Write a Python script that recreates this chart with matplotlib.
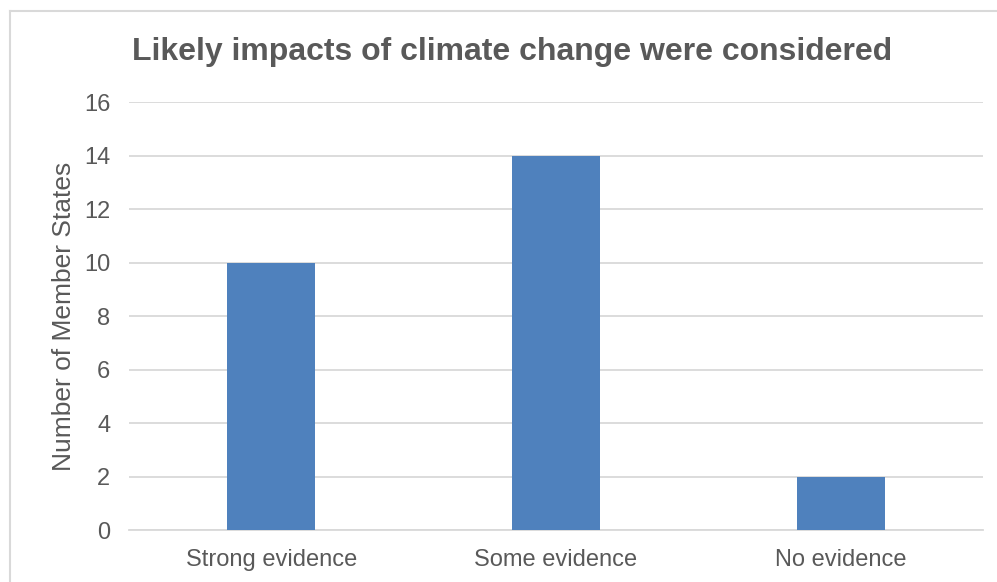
import matplotlib.pyplot as plt
from matplotlib.lines import Line2D

# evidence categories and member state counts
categories = ["Strong evidence", "Some evidence", "No evidence"]
counts = [10, 14, 2]
y_ticks = [0, 2, 4, 6, 8, 10, 12, 14, 16]

plt.rcParams['font.family'] = ['Liberation Sans', 'DejaVu Sans']
text_gray = "#595959"

fig = plt.figure(figsize=(9.97, 5.82), dpi=100)
ax = fig.add_axes([0.1294, 0.0893, 0.8566, 0.7354])

ax.bar(range(len(categories)), counts, width=0.31, color="#4F81BD", zorder=3)
ax.set_xlim(-0.5, len(categories) - 0.5)
ax.set_ylim(0, 16)
ax.set_yticks(y_ticks)
ax.set_xticks(range(len(categories)))
ax.set_xticklabels(categories)
ax.tick_params(axis="both", length=0, labelsize=17, colors=text_gray)
ax.tick_params(axis="y", pad=13.5)
ax.tick_params(axis="x", pad=14)
ax.grid(axis="y", color="#D9D9D9", linewidth=1.3, zorder=0)
for side in ["top", "right", "left"]:
    ax.spines[side].set_visible(False)
ax.spines["bottom"].set_color("#D9D9D9")
ax.spines["bottom"].set_linewidth(1.3)

ax.set_ylabel("Number of Member States", fontsize=19, color=text_gray, va="center")
ax.yaxis.set_label_coords(-0.076, 0.5)

fig.text(512 / 997, 1 - 52 / 582, "Likely impacts of climate change were considered",
         ha="center", va="center", fontsize=23, fontweight="bold", color=text_gray)

# chart frame
fig.add_artist(Line2D([10 / 997, 10 / 997], [0, 1 - 11 / 582], color="#D9D9D9", lw=1.5))
fig.add_artist(Line2D([10 / 997, 1], [1 - 11 / 582, 1 - 11 / 582], color="#D9D9D9", lw=1.5))

fig.savefig("out.png", dpi=100)
